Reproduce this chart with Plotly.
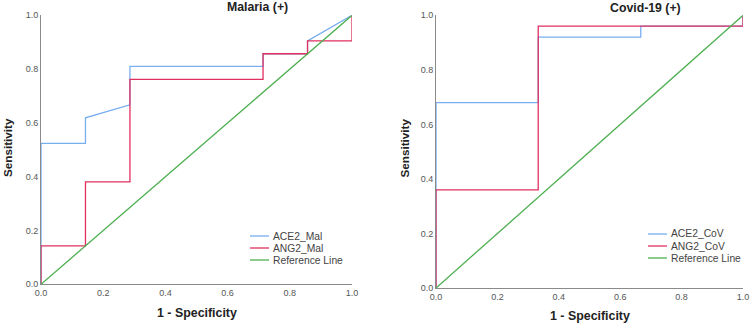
import plotly.graph_objects as go

# Malaria (+)
mal_ace2_x = [0, 0, 0.143, 0.143, 0.286, 0.286, 0.714, 0.714, 0.857, 0.857, 1.0]
mal_ace2_y = [0, 0.524, 0.524, 0.619, 0.667, 0.810, 0.810, 0.857, 0.857, 0.905, 1.0]
mal_ang2_x = [0, 0, 0.143, 0.143, 0.286, 0.286, 0.714, 0.714, 0.857, 0.857, 1.0, 1.0]
mal_ang2_y = [0, 0.143, 0.143, 0.381, 0.381, 0.762, 0.762, 0.857, 0.857, 0.905, 0.905, 1.0]

# Covid-19 (+)
cov_ace2_x = [0, 0, 0.333, 0.333, 0.667, 0.667, 1.0, 1.0]
cov_ace2_y = [0, 0.68, 0.68, 0.92, 0.92, 0.96, 0.96, 1.0]
cov_ang2_x = [0, 0, 0.333, 0.333, 1.0, 1.0]
cov_ang2_y = [0, 0.36, 0.36, 0.96, 0.96, 1.0]

ref_x = [0, 1]
ref_y = [0, 1]

tick_vals = [0, 0.2, 0.4, 0.6, 0.8, 1.0]
tick_text = ["0.0", "0.2", "0.4", "0.6", "0.8", "1.0"]

legend_left = ["ACE2_Mal", "ANG2_Mal", "Reference Line"]
legend_right = ["ACE2_CoV", "ANG2_CoV", "Reference Line"]

BLUE = "#78aef0"
RED = "#e03060"
GREEN = "#4caf50"
FONT = "Liberation Sans, Arial, sans-serif"

fig = go.Figure()

def add(x, y, name, color, xa, ya):
    fig.add_trace(go.Scatter(x=x, y=y, mode="lines", name=name,
                             line=dict(color=color, width=1.3),
                             xaxis=xa, yaxis=ya, showlegend=False,
                             hoverinfo="skip"))

add(mal_ace2_x, mal_ace2_y, legend_left[0], BLUE, "x", "y")
add(mal_ang2_x, mal_ang2_y, legend_left[1], RED, "x", "y")
add(ref_x, ref_y, legend_left[2], GREEN, "x", "y")
add(cov_ace2_x, cov_ace2_y, legend_right[0], BLUE, "x2", "y2")
add(cov_ang2_x, cov_ang2_y, legend_right[1], RED, "x2", "y2")
add(ref_x, ref_y, legend_right[2], GREEN, "x2", "y2")

W, H = 750, 323
def px(v): return v / W
def py(v): return (H - v) / H

axis_common = dict(range=[0, 1], showgrid=False, zeroline=False, showline=True,
                   linecolor="#8a8a8a", linewidth=1, ticks="",
                   tickvals=tick_vals, ticktext=tick_text,
                   tickfont=dict(size=9, color="#555", family=FONT),
                   fixedrange=True, automargin=False)

fig.update_layout(
    width=W, height=H, margin=dict(l=0, r=0, t=0, b=0, autoexpand=False),
    paper_bgcolor="white", plot_bgcolor="white",
    font=dict(family=FONT),
    xaxis=dict(domain=[px(41), px(352)], anchor="y", **axis_common),
    yaxis=dict(domain=[py(284.3), py(15.3)], anchor="x", **axis_common),
    xaxis2=dict(domain=[px(436), px(743)], anchor="y2", **axis_common),
    yaxis2=dict(domain=[py(288), py(15.3)], anchor="x2", **axis_common),
    showlegend=False,
)

# legends (drawn as keys + labels)
for names, x0, y0 in ((legend_left, 250, 236), (legend_right, 648, 234)):
    for i, (nm, col) in enumerate(zip(names, (BLUE, RED, GREEN))):
        yy = y0 + i * 12
        fig.add_shape(type="line", xref="paper", yref="paper",
                      x0=px(x0), x1=px(x0 + 19), y0=py(yy), y1=py(yy),
                      line=dict(color=col, width=1.3))
        fig.add_annotation(text=nm, x=px(x0 + 21), y=py(yy), xref="paper", yref="paper",
                           xanchor="left", yanchor="middle", showarrow=False,
                           font=dict(size=10.3, color="#444", family=FONT))

ann = [
    dict(text="<b>Malaria (+)</b>", x=px(257), y=py(7), size=12.3),
    dict(text="<b>Covid-19 (+)</b>", x=px(645), y=py(8), size=12.3),
    dict(text="<b>1 - Specificity</b>", x=px(197), y=py(313), size=12.4),
    dict(text="<b>1 - Specificity</b>", x=px(590), y=py(316), size=12.4),
]
for a in ann:
    fig.add_annotation(text=a["text"], x=a["x"], y=a["y"], xref="paper", yref="paper",
                       xanchor="center", yanchor="middle", showarrow=False,
                       font=dict(size=a["size"], color="#222", family=FONT))
for xp in (7, 403.5):
    fig.add_annotation(text="<b>Sensitivity</b>", x=px(xp), y=py(148), xref="paper", yref="paper",
                       xanchor="center", yanchor="middle", showarrow=False, textangle=-90,
                       font=dict(size=11.7, color="#222", family=FONT))

fig.write_html("out.html")
